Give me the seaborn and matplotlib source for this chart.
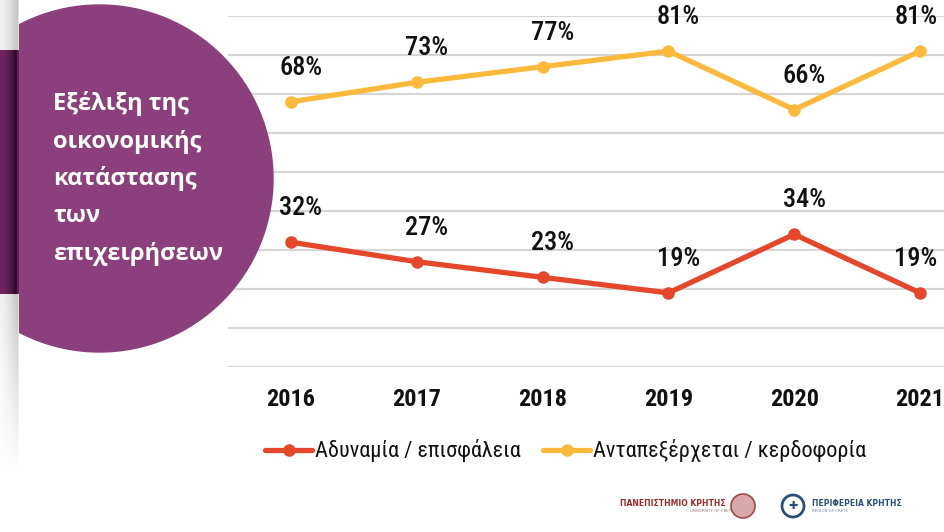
import numpy as np
import pandas as pd
import matplotlib
matplotlib.use("Agg")
import matplotlib.pyplot as plt
from matplotlib import font_manager as fm
from matplotlib.patches import Circle, Rectangle
from matplotlib.lines import Line2D
import seaborn as sns

# ---- data ----
years = [2016, 2017, 2018, 2019, 2020, 2021]
weak = [32, 27, 23, 19, 34, 19]          # Αδυναμία / επισφάλεια
profit = [68, 73, 77, 81, 66, 81]        # Ανταπεξέρχεται / κερδοφορία
series_names = ["Αδυναμία / επισφάλεια", "Ανταπεξέρχεται / κερδοφορία"]
title_lines = ["Εξέλιξη της", "οικονομικής", "κατάστασης", "των", "επιχειρήσεων"]

RED = "#E4472A"
YEL = "#FDB93C"
PURPLE = "#8B3F7C"

sns.set_theme(style="white")

# pick a condensed family if one is installed
available = {f.name for f in fm.fontManager.ttflist}
cond_stretch = any(f.name == "DejaVu Sans" and "Condensed" in f.fname for f in fm.fontManager.ttflist)
COND = None
for cand in ["Roboto Condensed", "Liberation Sans Narrow", "Arial Narrow", "Open Sans Condensed",
             "Noto Sans Condensed", "DejaVu Sans Condensed"]:
    if cand in available:
        COND = cand
        break
STRETCH = "normal"
if COND is None:
    if cond_stretch:
        COND = "DejaVu Sans"
        STRETCH = "condensed"
    else:
        COND = "Roboto" if "Roboto" in available else "DejaVu Sans"
plt.rcParams["font.family"] = [COND, "DejaVu Sans"]
plt.rcParams["font.stretch"] = STRETCH

W, H = 944, 532
fig = plt.figure(figsize=(W / 100, H / 100), dpi=100)
fig.patch.set_facecolor("white")

# ---- main chart axes ----
ax = fig.add_axes([228 / W, (H - 367) / H, (W - 228) / W, 351 / H])
df = pd.DataFrame({
    "year": years * 2,
    "value": weak + profit,
    "series": [series_names[0]] * len(years) + [series_names[1]] * len(years),
})
sns.lineplot(data=df, x="year", y="value", hue="series",
             palette={series_names[0]: RED, series_names[1]: YEL},
             marker="o", markersize=9, markeredgewidth=0, linewidth=3.8,
             legend=False, ax=ax, zorder=3)
ax.set_ylim(0, 90)
ax.set_xlim(2015.5, 2021.19)
ax.set_yticks(np.arange(0, 91, 10))
ax.set_yticklabels([])
ax.set_xticks(years)
ax.set_xticklabels([str(y) for y in years], fontsize=17.5, fontweight="bold", color="#111111")
ax.tick_params(axis="x", length=0, pad=15)
ax.tick_params(axis="y", length=0)
ax.grid(axis="y", color="#d6d6d6", linewidth=1.6)
ax.set_axisbelow(True)
for s in ax.spines.values():
    s.set_visible(False)
ax.set_xlabel("")
ax.set_ylabel("")
ax.set_facecolor("none")

for i, (y, a, b) in enumerate(zip(years, weak, profit)):
    dx = 10 if i < len(years) - 1 else -4
    for v in (a, b):
        ax.annotate(f"{v}%", (y, v), xytext=(dx * 0.72, 24.5), textcoords="offset points",
                    ha="center", va="center", fontsize=19, color="#111111",
                    fontweight="medium", annotation_clip=False)

# legend
handles = [Line2D([], [], color=RED, lw=3.8, marker="o", markersize=9, markeredgewidth=0),
           Line2D([], [], color=YEL, lw=3.8, marker="o", markersize=9, markeredgewidth=0)]
fig.legend(handles, series_names, loc="center", bbox_to_anchor=(566 / W, 1 - 451 / H),
           ncol=2, frameon=False, fontsize=16, handlelength=2.1, handletextpad=0.15,
           columnspacing=1.0, labelcolor="#111111")

# ---- decorative overlay ----
ov = fig.add_axes([0, 0, 1, 1], zorder=5)
ov.set_xlim(0, W)
ov.set_ylim(H, 0)
ov.axis("off")
ov.patch.set_alpha(0)

circ = Circle((99.5, 178.5), 173.5, color=PURPLE, zorder=2)
ov.add_patch(circ)
clip = Rectangle((19, 0), 400, 400, transform=ov.transData)
circ.set_clip_path(clip)

# left strip gradient
nx, ny = 19, H
img = np.ones((ny, nx, 4))
xs = np.arange(nx)
gray = 0.95 - 0.18 * (xs / 17.0) ** 1.5
gray[-1] = 0.88
ys = np.arange(ny)
alpha = np.clip((470 - ys) / 170.0, 0, 1)
for c in range(3):
    img[:, :, c] = gray[None, :]
img[:, :, 3] = alpha[:, None]
band = (ys >= 50) & (ys <= 293)
pr = np.array([0.42, 0.14, 0.38])
dk = np.array([0.20, 0.04, 0.18])
t = (xs / 15.0).clip(0, 1) ** 2
for c in range(3):
    col = pr[c] * (1 - t) + dk[c] * t
    col[-2:] = pr[c] * 0.9
    img[band, :, c] = col[None, :]
img[band, :, 3] = 1
ov.imshow(img, extent=(0, nx, ny, 0), aspect="auto", zorder=1, interpolation="bilinear")
ov.set_xlim(0, W)
ov.set_ylim(H, 0)

for k, line in enumerate(title_lines):
    ov.text(53, 110 + 37.5 * k, line, color="white", fontsize=17, fontweight="bold",
            family=["Open Sans", "DejaVu Sans"], stretch="normal",
            va="baseline", ha="left", zorder=3)

# logos (approximate)
ov.text(620, 503, "ΠΑΝΕΠΙΣΤΗΜΙΟ ΚΡΗΤΗΣ", color="#9b2a2a", fontsize=5.5, fontweight="bold",
        va="center", ha="left", family=["DejaVu Sans"], stretch="normal")
ov.text(690, 511, "UNIVERSITY OF CRETE", color="#a07070", fontsize=2.8, va="center", ha="left",
        family=["DejaVu Sans"], stretch="normal")
ov.add_patch(Circle((743, 506), 12, facecolor="#d9a8a8", edgecolor="#a04848", lw=1.2, zorder=3))
ov.add_patch(Circle((793, 506), 11, facecolor="white", edgecolor="#2c4d78", lw=2, zorder=3))
ov.text(793, 506, "✚", color="#2c4d78", fontsize=8, ha="center", va="center",
        family=["DejaVu Sans"], stretch="normal", zorder=4)
ov.text(812, 503, "ΠΕΡΙΦΕΡΕΙΑ ΚΡΗΤΗΣ", color="#2c4d78", fontsize=5.5, fontweight="bold",
        va="center", ha="left", family=["DejaVu Sans"], stretch="normal")
ov.text(812, 511, "REGION OF CRETE", color="#6f86a6", fontsize=2.8, va="center", ha="left",
        family=["DejaVu Sans"], stretch="normal")

fig.savefig("out.png", dpi=100, facecolor="white")
